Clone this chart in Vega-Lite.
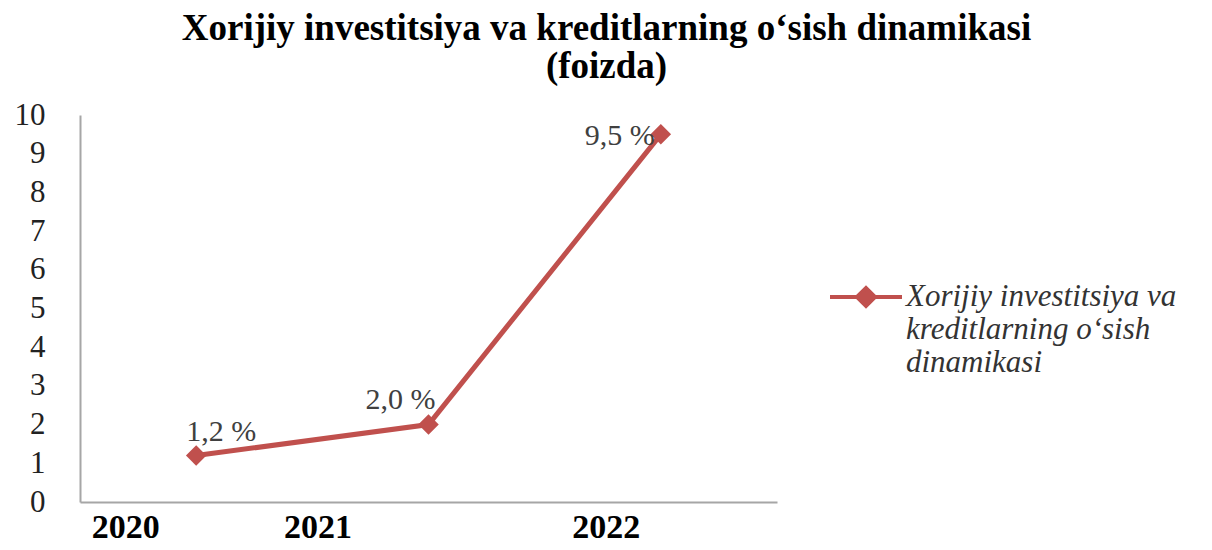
{
  "$schema": "https://vega.github.io/schema/vega-lite/v6.json",
  "autosize": {"type": "none"},
  "padding": {"left": 80, "top": 115, "right": 435, "bottom": 48},
  "width": 697,
  "height": 387,
  "background": "white",
  "title": {
    "text": ["Xorijiy investitsiya va kreditlarning o‘sish dinamikasi", "(foizda)"],
    "font": "Liberation Serif",
    "fontSize": 37,
    "fontWeight": "bold",
    "color": "#000000",
    "lineHeight": 38,
    "anchor": "middle",
    "frame": "group",
    "dx": 178,
    "offset": 13
  },
  "data": {
    "values": [
      {"year": "2020", "value": 1.2, "label": "1,2 %", "series": "Xorijiy investitsiya va kreditlarning o‘sish dinamikasi"},
      {"year": "2021", "value": 2.0, "label": "2,0 %", "series": "Xorijiy investitsiya va kreditlarning o‘sish dinamikasi"},
      {"year": "2022", "value": 9.5, "label": "9,5 %", "series": "Xorijiy investitsiya va kreditlarning o‘sish dinamikasi"}
    ]
  },
  "encoding": {
    "x": {
      "field": "year",
      "type": "ordinal",
      "scale": {"type": "point", "padding": 0.5},
      "axis": {
        "title": null,
        "labelAngle": 0,
        "ticks": false,
        "grid": false,
        "domainColor": "#A6A6A6",
        "domainWidth": 2,
        "labelFont": "Liberation Serif",
        "labelFontSize": 34,
        "labelFontWeight": "bold",
        "labelColor": "#000000",
        "labelPadding": 8,
        "labelBaseline": "top",
        "labelOffset": {
          "condition": [
            {"test": "datum.value == '2020'", "value": -71},
            {"test": "datum.value == '2021'", "value": -111}
          ],
          "value": -55
        }
      }
    },
    "y": {
      "field": "value",
      "type": "quantitative",
      "scale": {"domain": [0, 10], "nice": false},
      "axis": {
        "title": null,
        "values": [0, 1, 2, 3, 4, 5, 6, 7, 8, 9, 10],
        "ticks": false,
        "grid": false,
        "domainColor": "#A6A6A6",
        "domainWidth": 2,
        "labelFont": "Liberation Serif",
        "labelFontSize": 31,
        "labelColor": "#222222",
        "labelPadding": 35
      }
    }
  },
  "layer": [
    {
      "mark": {"type": "line", "strokeWidth": 5},
      "encoding": {
        "color": {
          "field": "series",
          "type": "nominal",
          "scale": {"range": ["#C0504D"]},
          "legend": {
            "orient": "none",
            "legendX": 748,
            "legendY": 144,
            "title": null,
            "symbolType": "M-1,0H1M-0.25,0L0,-0.25L0.25,0L0,0.25Z",
            "symbolSize": 5184,
            "symbolStrokeWidth": 4,
            "symbolFillColor": "#C0504D",
            "symbolStrokeColor": "#C0504D",
            "labelFont": "Liberation Serif",
            "labelFontStyle": "italic",
            "labelFontSize": 31,
            "labelColor": "#333333",
            "labelLimit": 0,
            "labelOffset": 2,
            "labelExpr": "['Xorijiy investitsiya va', 'kreditlarning o‘sish', 'dinamikasi']"
          }
        }
      }
    },
    {
      "mark": {"type": "point", "shape": "diamond", "filled": true, "size": 420, "opacity": 1},
      "encoding": {"color": {"field": "series", "type": "nominal", "legend": null}}
    },
    {
      "transform": [{"filter": "datum.year == '2020'"}],
      "mark": {"type": "text", "align": "left", "baseline": "middle", "dx": -10, "dy": -24, "font": "Liberation Serif", "fontSize": 30, "color": "#404040"},
      "encoding": {"text": {"field": "label"}}
    },
    {
      "transform": [{"filter": "datum.year == '2021'"}],
      "mark": {"type": "text", "align": "right", "baseline": "middle", "dx": 7, "dy": -25, "font": "Liberation Serif", "fontSize": 30, "color": "#404040"},
      "encoding": {"text": {"field": "label"}}
    },
    {
      "transform": [{"filter": "datum.year == '2022'"}],
      "mark": {"type": "text", "align": "right", "baseline": "middle", "dx": -6, "dy": 2, "font": "Liberation Serif", "fontSize": 30, "color": "#404040"},
      "encoding": {"text": {"field": "label"}}
    }
  ],
  "config": {"view": {"stroke": null}}
}
